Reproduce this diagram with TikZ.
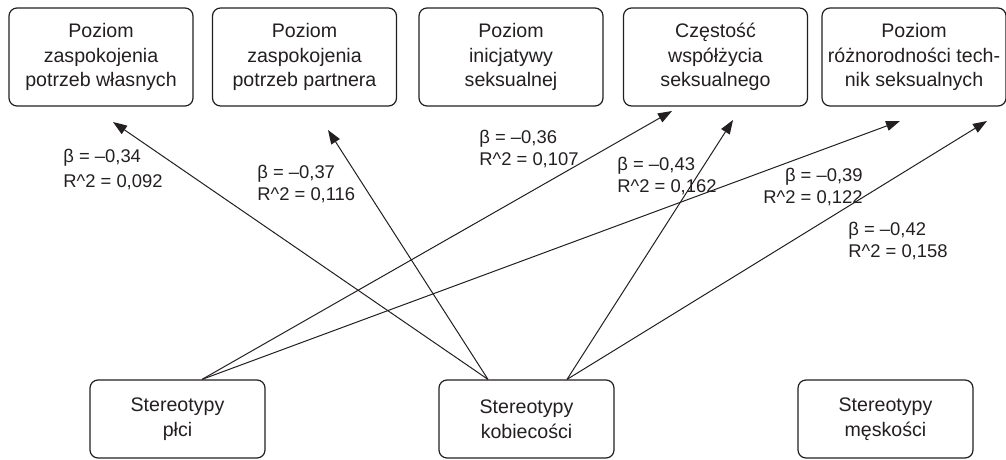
\documentclass[tikz,border=0pt]{standalone}
\usepackage{fontspec}
\setmainfont{Liberation Sans}
\usetikzlibrary{arrows.meta}
\definecolor{ciemny}{RGB}{35,31,32}

\begin{document}
\begin{tikzpicture}[x=0.5pt,y=-0.5pt,
  zmienna/.style={draw=ciemny,line width=0.6pt,rounded corners=4pt,align=center,text=ciemny,inner sep=0pt,font=\fontsize{9.8}{12.3}\selectfont},
  gora/.style={zmienna,minimum width=92pt,minimum height=49pt},
  dol/.style={zmienna,minimum width=87.5pt,minimum height=39pt},
  wsp/.style={text=ciemny,inner sep=0pt,font=\fontsize{9.2}{11}\selectfont},
  sciezka/.style={-{Triangle[length=7pt,width=5pt]},line width=0.5pt,draw=ciemny}]
%\draw[help lines] (0,0) grid (1006,460);
\useasboundingbox (0,0) rectangle (1006,460);

% zmienne zalezne
\node[gora] (wlasne) at (101,57) {Poziom\\zaspokojenia\\potrzeb własnych};
\node[gora] (partner) at (304.5,57) {Poziom\\zaspokojenia\\potrzeb partnera};
\node[gora] (inicj) at (511,57) {Poziom\\inicjatywy\\seksualnej};
\node[gora] (czest) at (715.5,57) {Częstość\\współżycia\\seksualnego};
\node[gora] (techn) at (914,57) {Poziom\\różnorodności tech-\\nik seksualnych};

% predyktory
\node[dol] (plec) at (177.5,419) {Stereotypy\\płci};
\node[dol] (kob) at (526.5,419) {Stereotypy\\kobiecości};
\node[dol] (mesk) at (885.5,419) {Stereotypy\\męskości};

\coordinate (plecA) at ([xshift=12.25pt]plec.north);
\coordinate (kobL) at ([xshift=-19.25pt]kob.north);
\coordinate (kobP) at ([xshift=20.25pt]kob.north);

\coordinate (doWlasne) at (113,122);
\coordinate (doPartner) at (328,130);
\coordinate (doCzestA) at (672,111);
\coordinate (doCzestB) at (733,120);
\coordinate (doTechnA) at (900,121);
\coordinate (doTechnB) at (987,121);

\draw[sciezka] (kobL) -- (doWlasne);
\draw[sciezka] (kobL) -- (doPartner);
\draw[sciezka] (plecA) -- (doCzestA);
\draw[sciezka] (kobP) -- (doCzestB);
\draw[sciezka] (plecA) -- (doTechnA);
\draw[sciezka] (kobP) -- (doTechnB);

% wspolczynniki
\node[wsp,align=left,anchor=west] (w1) at (63,169.5) {β = –0,34\\[1.5pt]R\textasciicircum2 = 0,092};
\node[wsp,align=left,anchor=west] (w2) at (257,184) {β = –0,37\\R\textasciicircum2 = 0,116};
\node[wsp,align=left,anchor=west] (w3) at (479,149) {β = –0,36\\R\textasciicircum2 = 0,107};
\node[wsp,align=left,anchor=west] (w4) at (617,176) {β = –0,43\\R\textasciicircum2 = 0,162};
\node[wsp,align=right,anchor=east] (w5) at (863,187.5) {β = –0,39\\R\textasciicircum2 = 0,122};
\node[wsp,align=left,anchor=west] (w6) at (848,241) {β = –0,42\\R\textasciicircum2 = 0,158};
\end{tikzpicture}
\end{document}
